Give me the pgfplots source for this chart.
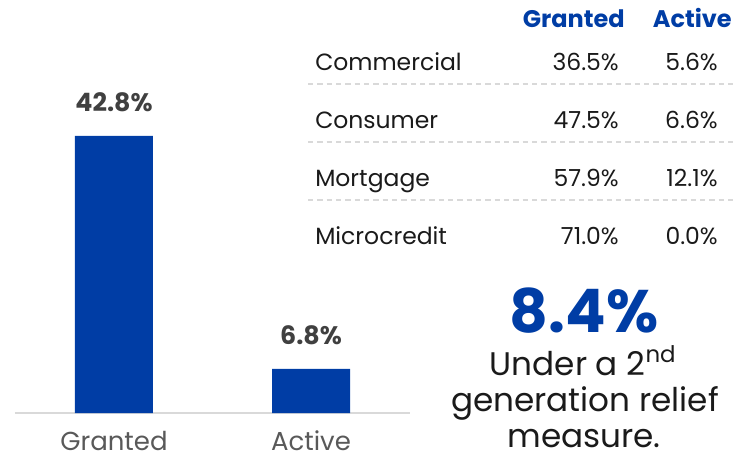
\documentclass[border=0pt]{standalone}
\usepackage{pgfplots}
\pgfplotsset{compat=1.18}
\usepackage{fontspec}
\setmainfont{Poppins}
\definecolor{barblue}{RGB}{0,61,165}
\definecolor{lblgray}{RGB}{64,64,64}
\definecolor{tickgray}{RGB}{89,89,89}
\definecolor{txt}{RGB}{26,26,26}
\definecolor{rule}{RGB}{217,217,217}

\begin{document}
\begin{tikzpicture}
\useasboundingbox (0,0) rectangle (552pt,-346.5pt);
\begin{axis}[
  at={(11.25pt,-309.75pt)}, anchor=south west,
  scale only axis, width=296.25pt, height=309.75pt,
  xmin=-0.5025, xmax=1.5025, ymin=0, ymax=63.8,
  axis y line=none, axis x line*=bottom,
  x axis line style={rule, line width=1.5pt, -},
  xtick=data, xticklabels={Granted, Active}, major tick length=0pt,
  xticklabel style={anchor=base, inner sep=0pt, yshift=-28pt, font=\fontsize{19.5}{22}\selectfont, text=tickgray},
  ytick=\empty,
  /pgf/number format/assume math mode=true,
  nodes near coords={\pgfmathprintnumber[fixed,precision=1,fixed zerofill]{\pgfplotspointmeta}\%},
  nodes near coords style={anchor=base, yshift=18pt, font=\bfseries\fontsize{19}{22}\selectfont, text=lblgray},
  clip=false]
\addplot[ybar, bar width=58.5pt, fill=barblue, draw=none] coordinates { (0,42.8) (1,6.8) };
\end{axis}
\begin{scope}[x=0.75pt, y=-0.75pt]
  \node[anchor=base east, inner sep=0pt, font=\bfseries\fontsize{18}{21}\selectfont, text=barblue] at (625,27) {Granted};
  \node[anchor=base east, inner sep=0pt, font=\bfseries\fontsize{18}{21}\selectfont, text=barblue] at (732,27) {Active};
  \foreach \y/\name/\g/\a in {70/Commercial/36.5\%/5.6\%, 128/Consumer/47.5\%/6.6\%, 186/Mortgage/57.9\%/12.1\%, 244/Microcredit/71.0\%/0.0\%} {
    \node[anchor=base west, font=\fontsize{17.6}{21}\selectfont, text=txt, inner sep=0pt] at (315,\y) {\name};
    \node[anchor=base east, font=\fontsize{17.6}{21}\selectfont, text=txt, inner sep=0pt] at (619,\y) {\g};
    \node[anchor=base east, font=\fontsize{17.6}{21}\selectfont, text=txt, inner sep=0pt] at (718,\y) {\a};
  }
  \foreach \y in {84,142,200}
    \draw[rule, line width=1pt, dash pattern=on 4pt off 3pt] (308,\y) -- (736,\y);
  \node[anchor=base, inner sep=0pt, font=\bfseries\fontsize{45}{50}\selectfont, text=barblue] at (584,332) {8.4\%};
  \node[anchor=base, inner sep=0pt, font=\fontsize{24.5}{28}\selectfont, text=txt] at (583,375) {Under a 2\textsuperscript{nd}};
  \node[anchor=base, inner sep=0pt, font=\fontsize{24.5}{28}\selectfont, text=txt] at (585,411) {generation relief};
  \node[anchor=base, inner sep=0pt, font=\fontsize{24.5}{28}\selectfont, text=txt] at (584,447) {measure.};
\end{scope}
\end{tikzpicture}
\end{document}
